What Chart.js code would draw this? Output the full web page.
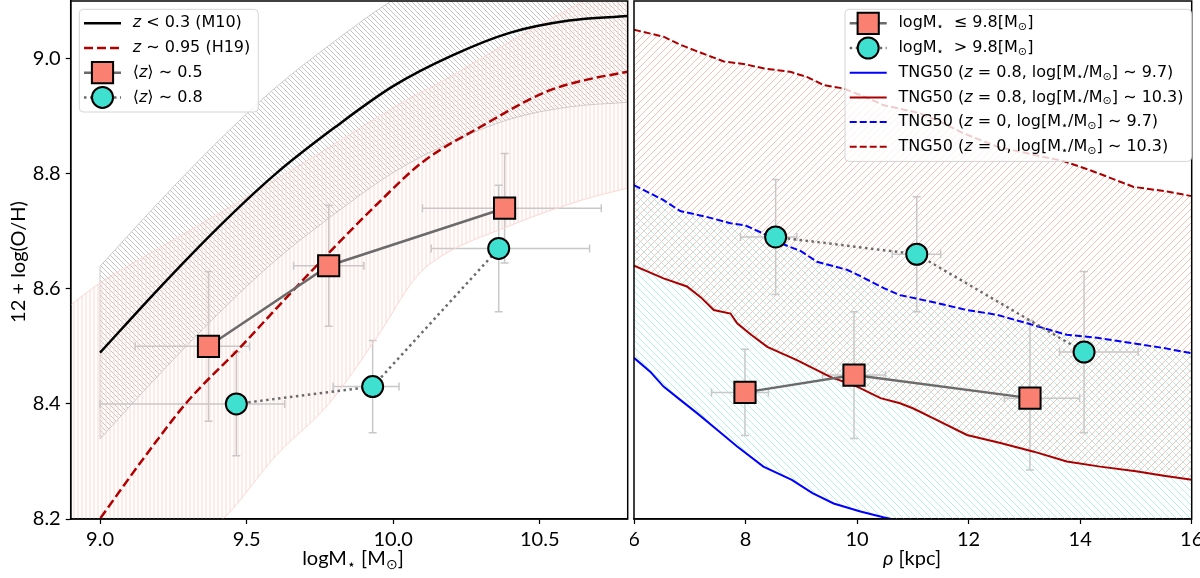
<!DOCTYPE html>
<html>
<head>
<meta charset="utf-8">
<script src="https://cdn.jsdelivr.net/npm/chart.js@4.4.1/dist/chart.umd.min.js"></script>
<style>
  html, body { margin: 0; padding: 0; background: #fff; }
  #wrap { position: relative; width: 1200px; height: 578px; overflow: hidden; }
  canvas { position: absolute; top: 0; }
  #massChart { left: 0; }
  #rhoChart { left: 630px; }
</style>
</head>
<body>
<div id="wrap">
  <canvas id="massChart" width="632" height="578"></canvas>
  <canvas id="rhoChart" width="570" height="578"></canvas>
</div>
<script>
// ---- left panel: metallicity vs stellar mass ----
const massTicks = [9.0, 9.5, 10.0, 10.5];
const massTickLabels = ['9.0', '9.5', '10.0', '10.5'];
const ohTicks = [8.2, 8.4, 8.6, 8.8, 9.0];
const ohTickLabels = ['8.2', '8.4', '8.6', '8.8', '9.0'];

// <z> ~ 0.5 (squares)
const sqMassX = [9.37, 9.78, 10.38];
const sqMassY = [8.50, 8.64, 8.74];
const sqMassXLo = [9.12, 9.66, 10.10];
const sqMassXHi = [9.51, 9.90, 10.71];
const sqMassYLo = [8.37, 8.535, 8.645];
const sqMassYHi = [8.63, 8.745, 8.835];

// <z> ~ 0.8 (circles)
const ciMassX = [9.465, 9.93, 10.36];
const ciMassY = [8.40, 8.43, 8.67];
const ciMassXLo = [9.00, 9.795, 10.13];
const ciMassXHi = [9.63, 10.02, 10.67];
const ciMassYLo = [8.31, 8.35, 8.56];
const ciMassYHi = [8.49, 8.51, 8.78];

// M10 relation (z < 0.3) and its scatter band
const m10X = [9.0, 9.2, 9.4, 9.6, 9.8, 10.0, 10.2, 10.4, 10.6, 10.8];
const m10Y = [8.489, 8.60, 8.705, 8.80, 8.88, 8.952, 9.005, 9.045, 9.066, 9.074];
const m10UpY = [8.639, 8.75, 8.855, 8.95, 9.03, 9.102, 9.155, 9.195, 9.216, 9.224];
const m10LoY = [8.339, 8.45, 8.555, 8.65, 8.73, 8.802, 8.855, 8.895, 8.916, 8.924];

// H19 relation (z ~ 0.95) and its band
const h19X = [8.95, 9.17, 9.30, 9.48, 9.60, 9.78, 9.955, 10.10, 10.30, 10.52, 10.65, 10.80];
const h19Y = [8.165, 8.32, 8.405, 8.499, 8.565, 8.662, 8.752, 8.82, 8.882, 8.942, 8.962, 8.977];
const h19BandX = [8.9, 9.0, 9.2, 9.42, 9.6, 9.78, 9.95, 10.07, 10.13, 10.4, 10.65, 10.8];
const h19UpY = [8.572, 8.61, 8.67, 8.735, 8.79, 8.845, 8.899, 8.935, 8.95, 9.03, 9.10, 9.14];
const h19LoY = [7.95, 8.02, 8.12, 8.20, 8.31, 8.40, 8.52, 8.615, 8.645, 8.71, 8.755, 8.775];

// ---- right panel: metallicity vs impact parameter ----
const rhoTicks = [6, 8, 10, 12, 14, 16];
const rhoTickLabels = ['6', '8', '10', '12', '14', '16'];

const sqRhoX = [7.99, 9.945, 13.10];
const sqRhoY = [8.42, 8.45, 8.41];
const sqRhoXLo = [7.39, 9.38, 12.64];
const sqRhoXHi = [8.41, 10.51, 13.99];
const sqRhoYLo = [8.345, 8.34, 8.285];
const sqRhoYHi = [8.495, 8.56, 8.545];

const ciRhoX = [8.54, 11.07, 14.07];
const ciRhoY = [8.69, 8.66, 8.49];
const ciRhoXLo = [7.91, 10.63, 13.63];
const ciRhoXHi = [8.92, 11.50, 15.04];
const ciRhoYLo = [8.59, 8.56, 8.35];
const ciRhoYHi = [8.79, 8.76, 8.63];

// TNG50 profiles
const tngZ0HiX = [6.0, 6.53, 6.83, 7.2, 7.61, 8.0, 8.32, 8.8, 9.1, 9.4, 9.76, 10.1, 10.48, 11.13, 11.5, 11.91, 12.51, 13.3, 13.7, 14.18, 14.96, 15.56, 16.0];
const tngZ0HiY = [9.05, 9.038, 9.024, 9.01, 8.995, 8.99, 8.983, 8.977, 8.968, 8.954, 8.948, 8.935, 8.919, 8.905, 8.89, 8.87, 8.847, 8.83, 8.822, 8.806, 8.777, 8.769, 8.761];
const tngZ0LoX = [6.0, 6.53, 6.83, 7.3, 7.73, 8.0, 8.32, 8.56, 9.0, 9.28, 9.82, 10.1, 10.48, 10.77, 11.31, 11.97, 12.5, 13.05, 13.76, 14.3, 14.96, 15.5, 16.0];
const tngZ0LoY = [8.78, 8.754, 8.735, 8.725, 8.714, 8.71, 8.696, 8.682, 8.665, 8.647, 8.633, 8.62, 8.601, 8.589, 8.578, 8.563, 8.555, 8.54, 8.52, 8.515, 8.505, 8.497, 8.488];
const tngZ08HiX = [6.0, 6.53, 6.95, 7.2, 7.43, 7.73, 7.85, 8.1, 8.39, 8.92, 9.52, 10.0, 10.42, 10.77, 11.01, 11.37, 11.97, 12.57, 13.17, 13.76, 14.36, 15.0, 15.5, 16.0];
const tngZ08HiY = [8.64, 8.618, 8.604, 8.585, 8.563, 8.557, 8.54, 8.52, 8.499, 8.476, 8.447, 8.43, 8.41, 8.401, 8.392, 8.375, 8.346, 8.332, 8.317, 8.30, 8.291, 8.283, 8.275, 8.268];
const tngZ08LoX = [6.0, 6.29, 6.53, 6.83, 7.13, 7.43, 7.85, 8.32, 8.83, 9.2, 9.58, 10.06, 10.47, 11.0, 12.0, 14.0, 16.0];
const tngZ08LoY = [8.48, 8.456, 8.43, 8.407, 8.384, 8.36, 8.326, 8.291, 8.268, 8.245, 8.227, 8.213, 8.203, 8.192, 8.17, 8.13, 8.09];

const SALMON = '#fa8072';
const TURQ = '#40e0d0';
const CONN = '#6b6b6b';
const H19RED = '#b00000';
const TNGRED = '#aa0000';
const BLUE = '#0000ff';

function pts(xs, ys) {
    return xs.map((x, i) => ({ x: x, y: ys[i] }));
}

// hatch tiles
function hatch(canvas, color, s, dir, lw) {
    const tile = document.createElement('canvas');
    tile.width = s; tile.height = s;
    const g = tile.getContext('2d');
    g.strokeStyle = color;
    g.lineWidth = lw;
    g.beginPath();
    if (dir === '|') {
        g.moveTo(s / 2, 0); g.lineTo(s / 2, s);
    } else {
        for (let k = -1; k <= 1; k++) {
            if (dir === '/') { g.moveTo(k * s, s); g.lineTo(k * s + s, 0); }
            else { g.moveTo(k * s, 0); g.lineTo(k * s + s, s); }
        }
    }
    g.stroke();
    return canvas.getContext('2d').createPattern(tile, 'repeat');
}

// rich text: segments {t, it, sub}
function segFont(seg, size, family) {
    const fs = seg.sub ? size * 0.7 : size;
    return (seg.it ? 'italic ' : '') + fs + 'px ' + family;
}
function richWidth(ctx, segs, size, family) {
    let w = 0;
    segs.forEach(s => { ctx.font = segFont(s, size, family); w += ctx.measureText(s.t).width; });
    return w;
}
function drawRich(ctx, segs, x, y, size, family, align) {
    let cx = x;
    if (align === 'center') cx = x - richWidth(ctx, segs, size, family) / 2;
    ctx.textBaseline = 'middle';
    ctx.textAlign = 'left';
    ctx.fillStyle = '#000';
    segs.forEach(s => {
        ctx.font = segFont(s, size, family);
        ctx.fillText(s.t, cx, s.sub ? y + size * 0.25 : y);
        cx += ctx.measureText(s.t).width;
    });
}

function drawMarker(ctx, kind, x, y) {
    ctx.save();
    ctx.lineWidth = 2;
    ctx.strokeStyle = '#000';
    if (kind === 'sq') {
        ctx.fillStyle = SALMON;
        ctx.beginPath(); ctx.rect(x - 10.6, y - 10.6, 21.2, 21.2);
    } else {
        ctx.fillStyle = TURQ;
        ctx.beginPath(); ctx.arc(x, y, 10.5, 0, Math.PI * 2);
    }
    ctx.fill(); ctx.stroke();
    ctx.restore();
}

function legendPlugin(x0, y0, rows) {
    return {
        id: 'customLegend',
        afterDraw(chart) {
            const ctx = chart.ctx;
            const fam = '"DejaVu Sans"';
            let maxW = 0;
            rows.forEach(r => { maxW = Math.max(maxW, richWidth(ctx, r.text, 16, fam)); });
            const w = 53.4 + maxW + 8, h = 14 + (rows.length - 1) * 24.7 + 14.6;
            ctx.save();
            ctx.beginPath();
            ctx.roundRect(x0, y0, w, h, 4);
            ctx.fillStyle = 'rgba(255,255,255,0.8)';
            ctx.fill();
            ctx.strokeStyle = '#d4d4d4';
            ctx.lineWidth = 1;
            ctx.stroke();
            rows.forEach((r, i) => {
                const yy = y0 + 14 + i * 24.7;
                const xa = x0 + 4.7, xb = x0 + 41.7;
                ctx.save();
                ctx.beginPath();
                ctx.moveTo(xa, yy); ctx.lineTo(xb, yy);
                ctx.strokeStyle = r.color;
                ctx.lineWidth = r.width;
                ctx.setLineDash(r.dash);
                ctx.stroke();
                ctx.restore();
                if (r.kind) drawMarker(ctx, r.kind, (xa + xb) / 2, yy);
                drawRich(ctx, r.text, x0 + 53.4, yy, 16, fam, 'left');
            });
            ctx.restore();
        }
    };
}

function errorBarPlugin(sets) {
    return {
        id: 'errbars',
        beforeDatasetsDraw(chart) {
            const ctx = chart.ctx, xs = chart.scales.x, ys = chart.scales.y;
            ctx.save();
            ctx.strokeStyle = '#c8c8c8';
            ctx.lineWidth = 1.5;
            sets.forEach(s => {
                s.x.forEach((xv, i) => {
                    const px = xs.getPixelForValue(xv), py = ys.getPixelForValue(s.y[i]);
                    const x1 = xs.getPixelForValue(s.xLo[i]), x2 = xs.getPixelForValue(s.xHi[i]);
                    const y1 = ys.getPixelForValue(s.yLo[i]), y2 = ys.getPixelForValue(s.yHi[i]);
                    ctx.beginPath();
                    ctx.moveTo(x1, py); ctx.lineTo(x2, py);
                    ctx.moveTo(x1, py - 4); ctx.lineTo(x1, py + 4);
                    ctx.moveTo(x2, py - 4); ctx.lineTo(x2, py + 4);
                    ctx.moveTo(px, y1); ctx.lineTo(px, y2);
                    ctx.moveTo(px - 4, y1); ctx.lineTo(px + 4, y1);
                    ctx.moveTo(px - 4, y2); ctx.lineTo(px + 4, y2);
                    ctx.stroke();
                });
            });
            ctx.restore();
        }
    };
}

function framePlugin(titles) {
    return {
        id: 'frame',
        afterDraw(chart) {
            const ctx = chart.ctx, a = chart.chartArea;
            ctx.save();
            ctx.strokeStyle = '#000';
            ctx.lineWidth = 1.5;
            ctx.strokeRect(a.left, a.top, a.right - a.left, a.bottom - a.top);
            titles.forEach(t => {
                ctx.save();
                ctx.translate(t.x, t.y);
                if (t.rot) ctx.rotate(-Math.PI / 2);
                drawRich(ctx, t.text, 0, 0, 20, 'Lato', 'center');
                ctx.restore();
            });
            ctx.restore();
        }
    };
}

function axisX(min, max, ticks, labels) {
    return {
        type: 'linear', min: min, max: max,
        afterBuildTicks: s => { s.ticks = ticks.map(v => ({ value: v })); },
        afterFit: s => { s.height = 59; s.paddingLeft = 0; s.paddingRight = 0; },
        ticks: {
            callback: (v, i) => labels[i],
            font: { family: 'Lato', size: 20 }, color: '#000',
            padding: 4, maxRotation: 0, autoSkip: false
        },
        grid: { drawOnChartArea: false, drawTicks: true, tickLength: 5, tickWidth: 1.2, tickColor: '#000' },
        border: { display: true, color: '#000', width: 1.5 }
    };
}

function pointSet(xs, ys, kind) {
    return {
        data: pts(xs, ys),
        showLine: true,
        borderColor: CONN,
        borderWidth: 2.5,
        borderDash: kind === 'sq' ? [] : [2.5, 3.5],
        pointStyle: kind === 'sq' ? 'rect' : 'circle',
        pointRadius: kind === 'sq' ? 15 : 10.5,
        pointBackgroundColor: kind === 'sq' ? SALMON : TURQ,
        pointBorderColor: '#000',
        pointBorderWidth: 2,
        fill: false
    };
}

function lineSet(xs, ys, color, width, dash, smooth) {
    return {
        data: pts(xs, ys),
        showLine: true,
        borderColor: color,
        borderWidth: width,
        borderDash: dash,
        pointRadius: 0,
        fill: false,
        cubicInterpolationMode: smooth ? 'monotone' : 'default',
        tension: smooth ? 0.4 : 0
    };
}

const massCanvas = document.getElementById('massChart');
const rhoCanvas = document.getElementById('rhoChart');

// Painel esquerdo
const grayHatch = hatch(massCanvas, '#c4c4c4', 5, '\\', 1);
const pinkVHatch = hatch(massCanvas, '#fcd6d0', 4, '|', 1);

const m10Up = lineSet(m10X, m10UpY, '#cccccc', 1, [], true);
m10Up.fill = 7;
m10Up.backgroundColor = grayHatch;
const h19Up = lineSet(h19BandX, h19UpY, '#fcd6d0', 1, [], true);
h19Up.fill = 5;
h19Up.backgroundColor = pinkVHatch;

new Chart(massCanvas, {
    type: 'scatter',
    data: {
        datasets: [
            pointSet(sqMassX, sqMassY, 'sq'),
            pointSet(ciMassX, ciMassY, 'ci'),
            lineSet(h19X, h19Y, H19RED, 2.5, [9, 4], true),
            lineSet(m10X, m10Y, '#000', 2.5, [], true),
            h19Up,
            lineSet(h19BandX, h19LoY, '#fcd6d0', 1, [], true),
            m10Up,
            lineSet(m10X, m10LoY, '#cccccc', 1, [], true),
            lineSet([9.0, 9.0], [m10LoY[0], m10UpY[0]], '#cccccc', 1, [])
        ]
    },
    options: {
        responsive: false,
        animation: false,
        events: [],
        layout: { autoPadding: false, padding: { top: 1, right: 4.3, left: 0, bottom: 0 } },
        plugins: {
            legend: { display: false },
            tooltip: { enabled: false },
            filler: { drawTime: 'beforeDatasetsDraw' }
        },
        scales: {
            x: axisX(8.9, 10.8, massTicks, massTickLabels),
            y: {
                type: 'linear', min: 8.2, max: 9.1,
                afterBuildTicks: s => { s.ticks = ohTicks.map(v => ({ value: v })); },
                afterFit: s => { s.width = 70.7; s.paddingTop = 0; s.paddingBottom = 0; },
                ticks: {
                    callback: (v, i) => ohTickLabels[i],
                    font: { family: 'Lato', size: 20 }, color: '#000', padding: 5
                },
                grid: { drawOnChartArea: false, drawTicks: true, tickLength: 5, tickWidth: 1.2, tickColor: '#000' },
                border: { display: true, color: '#000', width: 1.5 }
            }
        }
    },
    plugins: [
        errorBarPlugin([
            { x: sqMassX, y: sqMassY, xLo: sqMassXLo, xHi: sqMassXHi, yLo: sqMassYLo, yHi: sqMassYHi },
            { x: ciMassX, y: ciMassY, xLo: ciMassXLo, xHi: ciMassXHi, yLo: ciMassYLo, yHi: ciMassYHi }
        ]),
        framePlugin([
            { x: 353, y: 559, text: [{ t: 'logM' }, { t: '⋆', sub: 1 }, { t: ' [M' }, { t: '⊙', sub: 1 }, { t: ']' }] },
            { x: 19, y: 262, rot: true, text: [{ t: '12 + log(O/H)' }] }
        ]),
        legendPlugin(79.3, 9.3, [
            { color: '#000', width: 2.5, dash: [], text: [{ t: 'z', it: 1 }, { t: ' < 0.3 (M10)' }] },
            { color: H19RED, width: 2.5, dash: [9, 4], text: [{ t: 'z', it: 1 }, { t: ' ∼ 0.95 (H19)' }] },
            { kind: 'sq', color: CONN, width: 2.5, dash: [], text: [{ t: '⟨' }, { t: 'z', it: 1 }, { t: '⟩ ∼ 0.5' }] },
            { kind: 'ci', color: CONN, width: 2.5, dash: [2.5, 3.5], text: [{ t: '⟨' }, { t: 'z', it: 1 }, { t: '⟩ ∼ 0.8' }] }
        ])
    ]
});

// Painel direito
const pinkDHatch = hatch(rhoCanvas, '#f9bfb5', 7, '/', 1);
const cyanHatch = hatch(rhoCanvas, '#b2f3ee', 7, '\\', 1);

const z0Hi = lineSet(tngZ0HiX, tngZ0HiY, TNGRED, 2, [7, 3]);
z0Hi.fill = 3;
z0Hi.backgroundColor = pinkDHatch;
const z0Lo = lineSet(tngZ0LoX, tngZ0LoY, BLUE, 2, [7, 3]);
z0Lo.fill = 5;
z0Lo.backgroundColor = cyanHatch;

new Chart(rhoCanvas, {
    type: 'scatter',
    data: {
        datasets: [
            pointSet(sqRhoX, sqRhoY, 'sq'),
            pointSet(ciRhoX, ciRhoY, 'ci'),
            z0Hi,
            lineSet(tngZ08HiX, tngZ08HiY, TNGRED, 2, []),
            z0Lo,
            lineSet(tngZ08LoX, tngZ08LoY, BLUE, 2, [])
        ]
    },
    options: {
        responsive: false,
        animation: false,
        events: [],
        layout: { autoPadding: false, padding: { top: 1, right: 8.3, left: 4, bottom: 0 } },
        plugins: {
            legend: { display: false },
            tooltip: { enabled: false },
            filler: { drawTime: 'beforeDatasetsDraw' }
        },
        scales: {
            x: axisX(6, 16, rhoTicks, rhoTickLabels),
            y: {
                type: 'linear', min: 8.2, max: 9.1, display: false,
                afterFit: s => { s.paddingTop = 0; s.paddingBottom = 0; }
            }
        }
    },
    plugins: [
        errorBarPlugin([
            { x: sqRhoX, y: sqRhoY, xLo: sqRhoXLo, xHi: sqRhoXHi, yLo: sqRhoYLo, yHi: sqRhoYHi },
            { x: ciRhoX, y: ciRhoY, xLo: ciRhoXLo, xHi: ciRhoXHi, yLo: ciRhoYLo, yHi: ciRhoYHi }
        ]),
        framePlugin([
            { x: 282, y: 559, text: [{ t: 'ρ', it: 1 }, { t: ' [kpc]' }] }
        ]),
        legendPlugin(215, 9.3, [
            { kind: 'sq', color: CONN, width: 2.5, dash: [], text: [{ t: 'logM' }, { t: '⋆', sub: 1 }, { t: '  ≤ 9.8[M' }, { t: '⊙', sub: 1 }, { t: ']' }] },
            { kind: 'ci', color: CONN, width: 2.5, dash: [2.5, 3.5], text: [{ t: 'logM' }, { t: '⋆', sub: 1 }, { t: '  > 9.8[M' }, { t: '⊙', sub: 1 }, { t: ']' }] },
            { color: BLUE, width: 2, dash: [], text: [{ t: 'TNG50 (' }, { t: 'z', it: 1 }, { t: ' = 0.8, log[M' }, { t: '⋆', sub: 1 }, { t: '/M' }, { t: '⊙', sub: 1 }, { t: '] ∼ 9.7)' }] },
            { color: TNGRED, width: 2, dash: [], text: [{ t: 'TNG50 (' }, { t: 'z', it: 1 }, { t: ' = 0.8, log[M' }, { t: '⋆', sub: 1 }, { t: '/M' }, { t: '⊙', sub: 1 }, { t: '] ∼ 10.3)' }] },
            { color: BLUE, width: 2, dash: [7, 3], text: [{ t: 'TNG50 (' }, { t: 'z', it: 1 }, { t: ' = 0, log[M' }, { t: '⋆', sub: 1 }, { t: '/M' }, { t: '⊙', sub: 1 }, { t: '] ∼ 9.7)' }] },
            { color: TNGRED, width: 2, dash: [7, 3], text: [{ t: 'TNG50 (' }, { t: 'z', it: 1 }, { t: ' = 0, log[M' }, { t: '⋆', sub: 1 }, { t: '/M' }, { t: '⊙', sub: 1 }, { t: '] ∼ 10.3)' }] }
        ])
    ]
});
</script>
</body>
</html>
